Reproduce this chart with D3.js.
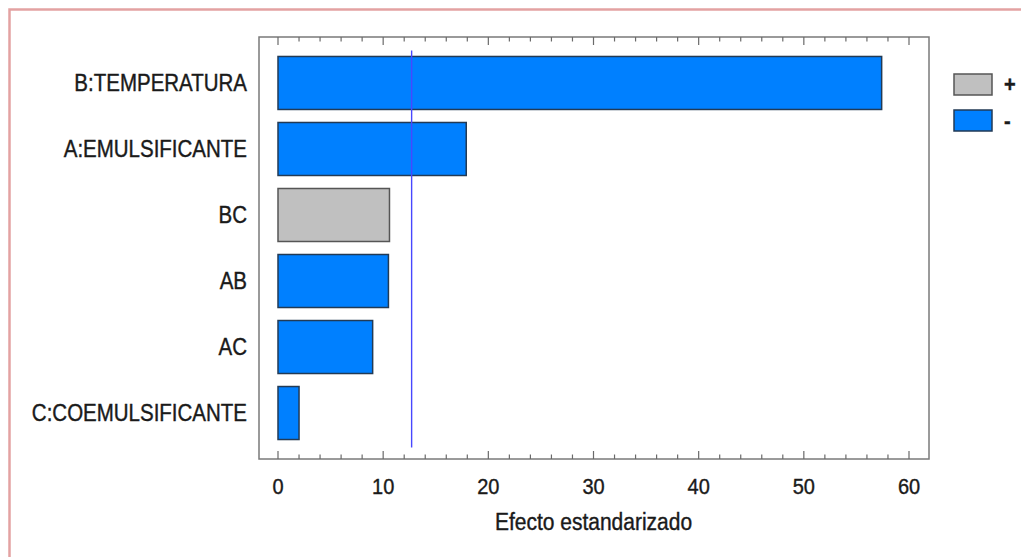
<!DOCTYPE html>
<html>
<head>
<meta charset="utf-8">
<script src="https://cdn.jsdelivr.net/npm/d3@7"></script>
<style>
  body { margin: 0; background: #fff; }
  text { font-family: "Liberation Sans", Arial, sans-serif; fill: #1a1a1a; stroke: #1a1a1a; stroke-width: 0.35; }
</style>
</head>
<body>
<svg id="chart" width="1021" height="557"></svg>
<script>
// effects, top to bottom
const factors = ["B:TEMPERATURA", "A:EMULSIFICANTE", "BC", "AB", "AC", "C:COEMULSIFICANTE"]
const effects = [57.4, 17.9, 10.6, 10.5, 9.0, 2.0]
const signs = ["-", "-", "+", "-", "-", "-"]
const xTicks = [0, 10, 20, 30, 40, 50, 60]
const critical = 12.706
const legendItems = ["+", "-"]

const colors = {"+": "#c0c0c0", "-": "#0080ff"}
const strokes = {"+": "#555555", "-": "#223a55"}

const svg = d3.select("#chart")

// text is a bit taller than plain Arial in the original
function put(sel, px, py) {
    return sel.attr("transform", `translate(${px},${py}) scale(1,1.13)`)
}

// page frame
svg.append("rect")
    .attr("x", 9.5).attr("y", 9.5)
    .attr("width", 1100).attr("height", 600)
    .attr("fill", "none")
    .attr("stroke", "#e3a2a2")
    .attr("stroke-width", 2.5)

const box = {left: 259, right: 929, top: 37, bottom: 459}

const x = d3.scaleLinear()
    .domain([0, 60])
    .range([278, 909])

const y = d3.scaleBand()
    .domain(factors)
    .range([box.top, box.bottom])
    .paddingInner(0.197)
    .paddingOuter(0.295)

// bars
svg.selectAll("rect.bar")
    .data(factors)
    .enter().append("rect")
    .attr("class", "bar")
    .attr("x", x(0))
    .attr("y", d => y(d))
    .attr("width", (d, i) => x(effects[i]) - x(0))
    .attr("height", y.bandwidth())
    .attr("fill", (d, i) => colors[signs[i]])
    .attr("stroke", (d, i) => strokes[signs[i]])
    .attr("stroke-width", 1.5)

// critical value line
svg.append("line")
    .attr("x1", x(critical)).attr("x2", x(critical))
    .attr("y1", y(factors[0]) - y.step() * 0.09)
    .attr("y2", y(factors[factors.length - 1]) + y.bandwidth() + y.step() * 0.12)
    .attr("stroke", "#4848ff")
    .attr("stroke-width", 1.4)

// frame of the plot
svg.append("rect")
    .attr("x", box.left).attr("y", box.top)
    .attr("width", box.right - box.left)
    .attr("height", box.bottom - box.top)
    .attr("fill", "none")
    .attr("stroke", "#7a7a7a")
    .attr("stroke-width", 1.5)

// ticks, inward on top and bottom
const minor = d3.range(0, 61, 2)
;[box.top, box.bottom].forEach((yy, k) => {
    const dir = k == 0 ? 1 : -1
    svg.selectAll(null)
        .data(minor)
        .enter().append("line")
        .attr("x1", d => x(d)).attr("x2", d => x(d))
        .attr("y1", yy)
        .attr("y2", d => yy + dir * (d % 10 == 0 ? 8 : 4.5))
        .attr("stroke", "#6a6a6a")
        .attr("stroke-width", 1.2)
})

// tick labels
svg.selectAll("text.tick")
    .data(xTicks)
    .enter().append("text")
    .attr("class", "tick")
    .attr("text-anchor", "middle")
    .style("font-size", "20px")
    .each(function(d) { put(d3.select(this), x(d), 494) })
    .text(d => d)

// category labels
svg.selectAll("text.cat")
    .data(factors)
    .enter().append("text")
    .attr("class", "cat")
    .attr("text-anchor", "end")
    .style("font-size", "20.5px")
    .each(function(d) { put(d3.select(this), 247, y(d) + y.bandwidth() / 2 + 8) })
    .text(d => d)

// axis title
put(svg.append("text"), (x(0) + x(60)) / 2, 530)
    .attr("text-anchor", "middle")
    .style("font-size", "21px")
    .text("Efecto estandarizado")

// legend
legendItems.forEach((s, i) => {
    svg.append("rect")
        .attr("x", 954).attr("y", 74 + i * 36)
        .attr("width", 38).attr("height", 21)
        .attr("fill", colors[s])
        .attr("stroke", strokes[s])
        .attr("stroke-width", 1.5)
    put(svg.append("text"), 1004, 92 + i * 36)
        .style("font-size", "20px")
        .style("font-weight", "bold")
        .text(s)
})
</script>
</body>
</html>
